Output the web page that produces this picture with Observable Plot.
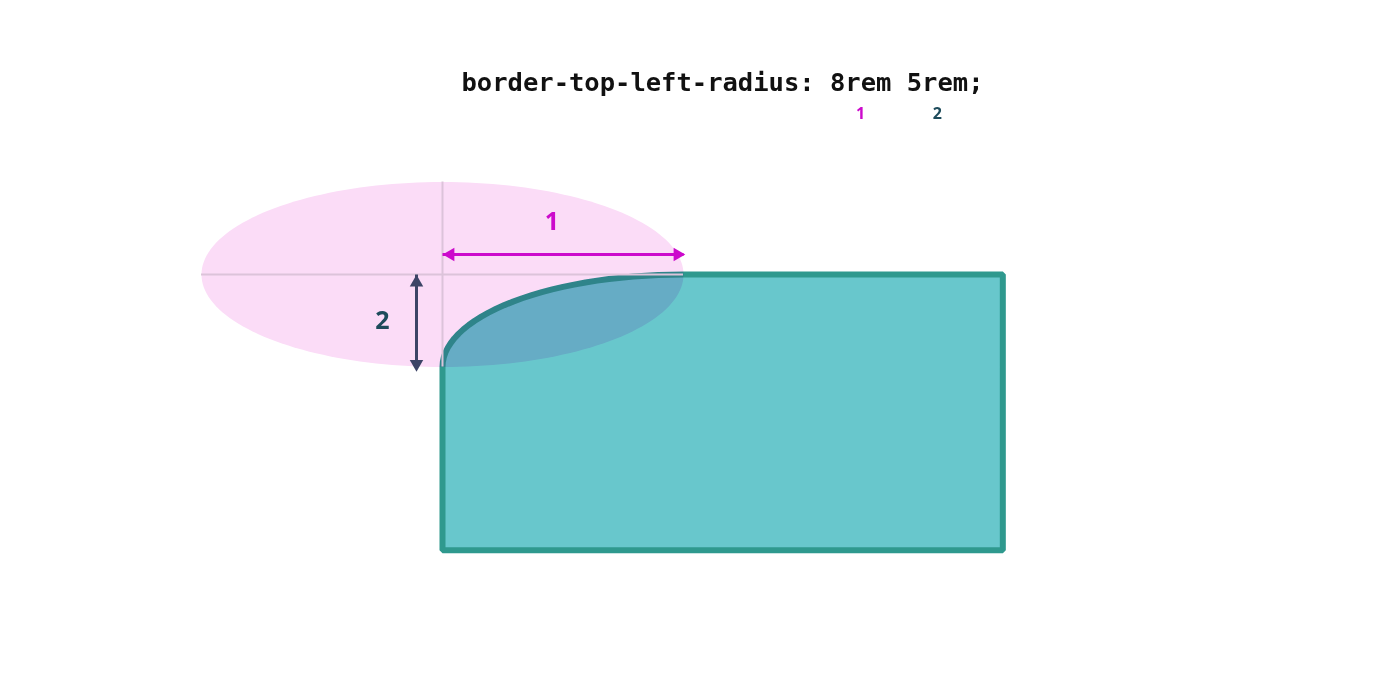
<!DOCTYPE html>
<html>
<head>
<meta charset="utf-8">
<script src="https://cdn.jsdelivr.net/npm/d3@7"></script>
<script src="https://cdn.jsdelivr.net/npm/@observablehq/plot@0.6"></script>
<style>
  html, body { margin: 0; padding: 0; background: #fff; }
  #chart { width: 1400px; height: 700px; }
</style>
</head>
<body>
<div id="chart"></div>
<script>
// ---------- Diagram values (rem) ----------
const declaration = "border-top-left-radius: 8rem 5rem;";
const radiusLabels = ["1", "2"];           // 1 = horizontal radius, 2 = vertical radius
const radiusValues = [8, 5];               // 8rem 5rem, as in the declaration
const radiusTokens = ["8rem", "5rem"];
const boxSize = [18.6, 14.9];              // width, height of the rounded box

// ---------- Colours ----------
const C = {
  ink: "#111",
  one: "#cc0acc",
  two: "#3c4466",
  twoText: "#1d4b5b",
  ellipse: "#fbdcf7",
  cross: "#dcc3da",
  boxFill: "#68c7cc",
  boxStroke: "#2f998e"
};

const [rx, ry] = radiusValues;
const [W, H] = boxSize;

// ellipse described by the two radii, centred at the box corner
const ellipse = d3.range(0, 360, 2).map(a => {
  const t = a * Math.PI / 180;
  return {x: rx * Math.cos(t), y: ry * Math.sin(t)};
});

// box outline: elliptical top-left corner, then the straight sides
const corner = d3.range(180, 271, 3).map(a => {
  const t = a * Math.PI / 180;
  return {x: rx + rx * Math.cos(t), y: ry + ry * Math.sin(t)};
});
const box = [...corner, {x: W, y: 0}, {x: W, y: H}, {x: 0, y: H}];

// title metrics (monospace): subscript offsets from the token positions
const monoSize = 25.5;
const charW = 0.602 * monoSize;
const tokens = radiusTokens.map((tok, i) => {
  const start = declaration.indexOf(tok);
  return {
    label: radiusLabels[i],
    dx: 22 + (start + tok.length / 2 - declaration.length / 2) * charW,
    color: i === 0 ? C.one : C.twoText
  };
});

const sans = "'Open Sans', 'Noto Sans', sans-serif";
const head = {symbol: "triangle", r: 5, stroke: "none"};   // tip sits ~7.8px from centre

const chart = Plot.plot({
  width: 1400, height: 700,
  marginTop: 0, marginRight: 0, marginBottom: 0, marginLeft: 0,
  x: {domain: [-14.672, 31.801], axis: null},
  y: {domain: [-14.811, 23.027], range: [0, 700], axis: null},
  marks: [
    // box with rounded corner
    Plot.line(box, {
      x: "x", y: "y", curve: "linear-closed",
      fill: C.boxFill, stroke: C.boxStroke, strokeWidth: 6,
      strokeLinejoin: "miter", strokeLinecap: "butt"
    }),
    // radius ellipse (multiplied over the box)
    Plot.line(ellipse, {
      x: "x", y: "y", curve: "linear-closed",
      fill: C.ellipse, stroke: "none", mixBlendMode: "multiply"
    }),
    // crosshair through the ellipse centre
    Plot.ruleY([0], {x1: -rx, x2: rx, stroke: C.cross, strokeWidth: 2}),
    Plot.ruleX([0], {y1: -ry, y2: ry, stroke: C.cross, strokeWidth: 2}),

    // radius 1: horizontal double arrow
    Plot.link([{x1: 0, x2: rx}], {
      x1: "x1", x2: "x2", y1: () => 0, y2: () => 0, dy: -20,
      stroke: C.one, strokeWidth: 3
    }),
    Plot.dot([0], {x: () => 0, y: () => 0, dx: 8, dy: -20, rotate: -90, fill: C.one, ...head}),
    Plot.dot([0], {x: () => rx, y: () => 0, dx: -6, dy: -20, rotate: 90, fill: C.one, ...head}),
    Plot.text([radiusLabels[0]], {
      x: () => rx / 2, y: () => 0, text: d => d, dx: -11, dy: -53,
      fill: C.one, fontSize: 25, fontWeight: "bold", fontFamily: sans
    }),

    // radius 2: vertical double arrow
    Plot.link([{y1: 0, y2: ry}], {
      x1: () => 0, x2: () => 0, y1: "y1", y2: "y2", dx: -26,
      stroke: C.two, strokeWidth: 3
    }),
    Plot.dot([0], {x: () => 0, y: () => 0, dx: -26, dy: 8, rotate: 0, fill: C.two, ...head}),
    Plot.dot([0], {x: () => 0, y: () => ry, dx: -26, dy: -3, rotate: 180, fill: C.two, ...head}),
    Plot.text([radiusLabels[1]], {
      x: () => 0, y: () => ry / 2, text: d => d, dx: -60, dy: 0,
      fill: C.twoText, fontSize: 25, fontWeight: "bold", fontFamily: sans
    }),

    // declaration title and token subscripts
    Plot.text([declaration], {
      frameAnchor: "top", lineAnchor: "middle", text: d => d, dx: 22, dy: 82,
      fill: C.ink, fontSize: monoSize, fontWeight: "bold",
      fontFamily: "'DejaVu Sans Mono', 'Liberation Mono', monospace"
    }),
    ...tokens.map(t => Plot.text([t.label], {
      frameAnchor: "top", lineAnchor: "middle", text: d => d, dx: t.dx, dy: 113,
      fill: t.color, fontSize: 16, fontWeight: "bold", fontFamily: sans
    }))
  ]
});

document.getElementById("chart").appendChild(chart);
</script>
</body>
</html>
